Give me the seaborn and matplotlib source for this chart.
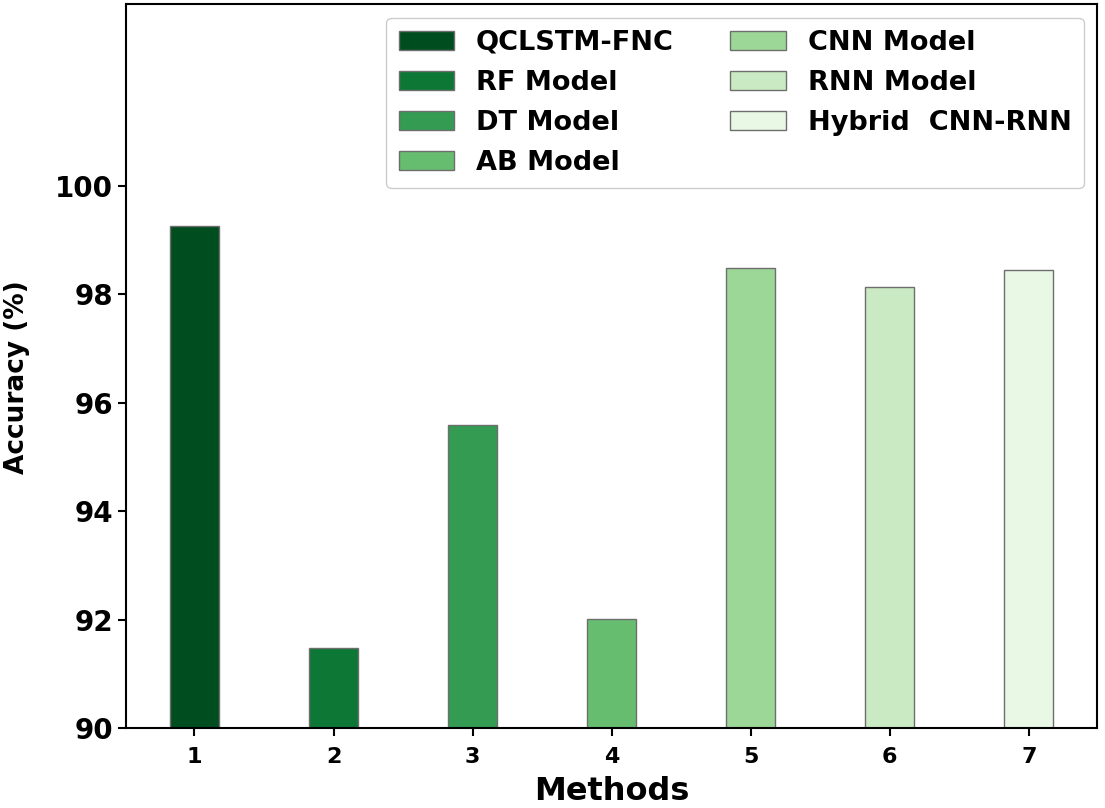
import numpy as np
import pandas as pd
import seaborn as sns
import matplotlib.pyplot as plt

# values
methods = ['1', '2', '3', '4', '5', '6', '7']
model_names = ['QCLSTM-FNC', 'RF Model', 'DT Model', 'AB Model',
               'CNN Model', 'RNN Model', 'Hybrid  CNN-RNN']
accuracy = [99.26, 91.48, 95.59, 92.01, 98.49, 98.14, 98.45]

sns.set_style('ticks')
plt.rcParams['font.family'] = ['DejaVu Sans']
plt.rcParams['font.weight'] = 'bold'
for key in ['text.color', 'axes.labelcolor', 'xtick.color', 'ytick.color']:
    plt.rcParams[key] = 'black'

df = pd.DataFrame({'Methods': methods, 'Model': model_names, 'Accuracy': accuracy})
colors = [plt.cm.Greens(v) for v in np.linspace(0.97, 0.1, 7)]

fig = plt.figure(figsize=(11.05, 8.08), dpi=100)
ax = fig.add_axes([0.114, 0.099, 0.879, 0.896])

sns.barplot(data=df, x='Methods', y='Accuracy', hue='Model', palette=colors,
            dodge=False, width=0.35, edgecolor='#6e6e6e', linewidth=1.0,
            saturation=1, ax=ax)

ax.set_ylim(90, 103.36)
ax.set_xlim(-0.4925, 6.4925)
ax.set_yticks([90, 92, 94, 96, 98, 100])
ax.set_ylabel('Accuracy (%)', fontsize=19, fontweight='bold')
ax.yaxis.set_label_coords(-0.099, 0.485)
ax.set_xlabel('Methods', fontsize=23, fontweight='bold', labelpad=6)
ax.tick_params(axis='y', labelsize=20, width=1.5, length=6)
ax.tick_params(axis='x', labelsize=16, width=1.5, length=6, pad=8)
for lab in ax.get_xticklabels() + ax.get_yticklabels():
    lab.set_fontweight('bold')
for sp in ax.spines.values():
    sp.set_linewidth(1.5)
    sp.set_color('black')

leg = ax.legend(loc='upper right', ncol=2, fontsize=19.5, columnspacing=2.1,
                handlelength=2.05, labelspacing=0.52, borderpad=0.45,
                frameon=True, fancybox=True, framealpha=1, edgecolor='#cccccc')
for t in leg.get_texts():
    t.set_fontweight('bold')

fig.savefig('out.png', dpi=100)
